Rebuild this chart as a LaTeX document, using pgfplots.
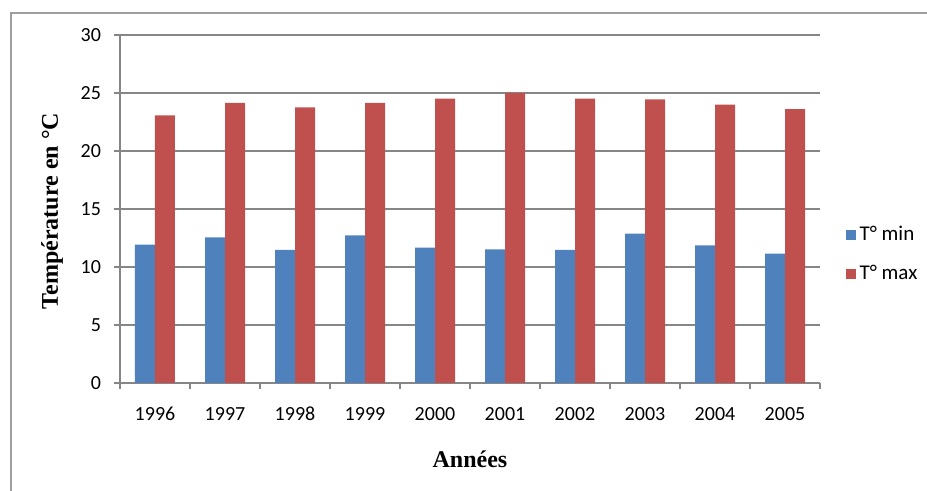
\documentclass[border=0pt]{standalone}
\usepackage{pgfplots}
\pgfplotsset{compat=1.18}
\usepackage{fontspec}
\setmainfont{Liberation Serif}
\setsansfont{Carlito}

\definecolor{barblue}{RGB}{79,129,189}
\definecolor{barred}{RGB}{192,80,77}
\definecolor{gridgray}{RGB}{134,134,134}

\begin{document}
\begin{tikzpicture}
\begin{axis}[
    at={(0pt,0pt)}, anchor=south west,
    scale only axis,
    width=350pt, height=174pt,
    ybar=0pt, bar width=10pt,
    xmin=-0.5, xmax=9.5,
    ymin=0, ymax=30,
    xtick={0,...,9},
    xticklabels={1996,1997,1998,1999,2000,2001,2002,2003,2004,2005},
    minor xtick={-0.5,0.5,...,9.5},
    ytick={0,5,...,30},
    major x tick style={draw=none},
    tick align=outside,
    major tick length=3pt, minor tick length=3pt,
    tick style={gridgray, line width=0.7pt},
    axis x line*=bottom, axis y line*=left,
    axis line style={gridgray, line width=0.7pt, -},
    ymajorgrids, grid style={gridgray, line width=0.75pt},
    /pgf/number format/assume math mode=true,
    ticklabel style={font=\sffamily\fontsize{10}{12}\selectfont},
    yticklabel style={xshift=-3pt},
    xticklabel style={yshift=-5pt, text height=7pt, text depth=0pt},
    xlabel={Années}, ylabel={Température en °C},
    every axis x label/.style={at={(axis description cs:0.5,-0.22)}, anchor=center,
        font=\bfseries\fontsize{12}{14}\selectfont},
    every axis y label/.style={at={(axis description cs:-0.097,0.494)}, anchor=center, rotate=90,
        font=\bfseries\fontsize{12}{14}\selectfont},
    legend style={draw=none, at={(axis description cs:1.036,0.37)}, anchor=west,
        font=\sffamily\fontsize{10.5}{12}\selectfont, row sep=7pt, inner sep=0pt},
    legend cell align=left,
    legend image code/.code={\fill[#1] (0pt,-2.5pt) rectangle (5pt,2.5pt);},
]
\addplot[fill=barblue, draw=none] coordinates {
    (0,11.93) (1,12.56) (2,11.47) (3,12.73) (4,11.67)
    (5,11.52) (6,11.47) (7,12.87) (8,11.87) (9,11.15)};
\addplot[fill=barred, draw=none] coordinates {
    (0,23.07) (1,24.14) (2,23.76) (3,24.14) (4,24.51)
    (5,25.00) (6,24.51) (7,24.45) (8,24.00) (9,23.60)};
\legend{T° min, T° max}
\end{axis}
\draw[gridgray!80, line width=1pt] (-54.5pt,-54pt) -- (-54.5pt,185pt) -- (403.5pt,185pt);
\pgfresetboundingbox
\path[use as bounding box] (-60pt,-54pt) rectangle (403.5pt,191.5pt);
\end{tikzpicture}
\end{document}
